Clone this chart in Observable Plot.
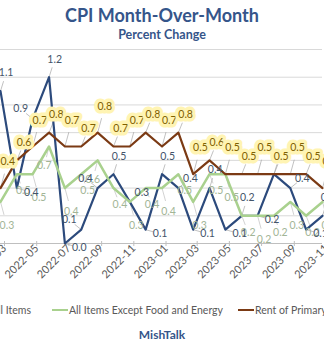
<!DOCTYPE html>
<html><head><meta charset="utf-8">
<script src="https://cdn.jsdelivr.net/npm/d3@7"></script>
<script src="https://cdn.jsdelivr.net/npm/@observablehq/plot@0.6"></script>
<style>
html,body{margin:0;padding:0;background:#fff;}
#wrap{position:relative;width:324px;height:348px;overflow:hidden;font-family:Lato,"Open Sans",sans-serif;}
#title{position:absolute;top:4px;left:0;width:324px;text-align:center;font-weight:700;font-size:18px;line-height:22px;color:#35558a;}
#subtitle{position:absolute;top:27px;left:0;width:324px;text-align:center;font-weight:700;font-size:12.5px;line-height:16px;color:#35558a;}
#chart{position:absolute;top:44px;left:0;}
.leg{position:absolute;top:303px;font-size:10.5px;line-height:14px;color:#595959;white-space:nowrap;display:flex;align-items:center;}
.key{display:inline-block;width:16px;height:2.5px;margin-right:1px;}
#caption{position:absolute;top:327px;left:0;width:324px;text-align:center;font-weight:700;font-size:12px;line-height:16px;color:#35558a;}
</style>
</head><body>
<div id="wrap">
  <div id="title"></div>
  <div id="subtitle"></div>
  <div id="chart"></div>
  <div id="legend"></div>
  <div id="caption"></div>
</div>
<script>
// ---- data ----
const titleText = "CPI Month-Over-Month";
const subtitleText = "Percent Change";
const captionText = "MishTalk";
const months = ["2022-03","2022-04","2022-05","2022-06","2022-07","2022-08","2022-09","2022-10","2022-11","2022-12",
                "2023-01","2023-02","2023-03","2023-04","2023-05","2023-06","2023-07","2023-08","2023-09","2023-10","2023-11"];
const allItems    = [1.1, 0.4, 0.9, 1.2, 0.0, 0.1, 0.4, 0.5, 0.3, 0.1, 0.5, 0.4, 0.1, 0.4, 0.1, 0.2, 0.2, 0.5, 0.4, 0.1, 0.2];
const coreItems   = [0.3, 0.5, 0.5, 0.7, 0.4, 0.5, 0.6, 0.4, 0.3, 0.4, 0.4, 0.5, 0.3, 0.5, 0.5, 0.2, 0.2, 0.2, 0.3, 0.2, 0.3];
const rentPrimary = [0.4, 0.6, 0.7, 0.8, 0.7, 0.7, 0.8, 0.7, 0.7, 0.8, 0.7, 0.8, 0.5, 0.6, 0.5, 0.5, 0.5, 0.5, 0.5, 0.5, 0.4];
const seriesNames = ["All Items", "All Items Except Food and Energy", "Rent of Primary Residence"];
const tickMonths = ["2022-03","2022-05","2022-07","2022-09","2022-11","2023-01","2023-03","2023-05","2023-07","2023-09","2023-11"];
const yTicks = [0.2, 0.4, 0.6, 0.8, 1.0, 1.2, 1.4];

// ---- styles ----
const colors = ["#2c4a7c", "#a9d18e", "#7b3a14"];
const labelColors = ["#44546a", "#a2b596", "#7f6000"];

document.getElementById("title").textContent = titleText;
document.getElementById("subtitle").textContent = subtitleText;
document.getElementById("caption").textContent = captionText;

const parse = d3.utcParse("%Y-%m");
const dates = months.map(parse);
const tickDates = tickMonths.map(parse);
const shift = (d, m) => new Date(+d + m * 30.44 * 864e5);

// label placement computed from the data shape
function place(values, rule) {
  return values.map((v, i) => {
    const p = i > 0 ? values[i - 1] : v, n = i < values.length - 1 ? values[i + 1] : v;
    const [dm, dv] = rule(v, p, n, i);
    const lx = shift(dates[i], dm), ly = v + dv;
    return {date: dates[i], v, lx, ly,
            ex: shift(dates[i], dm * 0.55), ey: v + dv * 0.55,
            label: v.toFixed(1)};
  });
}
const blueLab = place(allItems, (v, p, n) => {
  if (v >= p && v >= n) return [0.35, 0.13];
  if (v <= p && v <= n) return [0.9, -0.03];
  if (p < v) return [-0.75, 0.07];
  return [0.75, 0.07];
});
const greenLab = place(coreItems, (v, p, n, i) => {
  if (v >= p && v >= n && v > 0.55) return [-0.3, -0.14];
  return [0.4, i % 2 ? -0.12 : -0.17];
});
const rentLab = place(rentPrimary, (v, p, n, i) => [0.45, i % 2 ? 0.13 : 0.19]);

const rows = (vals, k) => vals.map((v, i) => ({date: dates[i], v, k}));

const plot = Plot.plot({
  width: 324, height: 254,
  marginTop: 5, marginBottom: 55, marginLeft: 0, marginRight: 2,
  style: {fontFamily: "Lato, 'Open Sans', sans-serif", background: "transparent", overflow: "visible"},
  x: {type: "utc", domain: [dates[0], dates[dates.length - 1]], axis: null},
  y: {domain: [0, 1.4], axis: null},
  marks: [
    Plot.ruleY(yTicks, {stroke: "#d9d9d9", strokeWidth: 1}),
    Plot.ruleY([0], {stroke: "#bfbfbf", strokeWidth: 1}),
    Plot.axisX(tickDates, {tickRotate: -45, tickFormat: d3.utcFormat("%Y-%m"), tickSize: 5, tickPadding: 0,
      dx: 4, dy: -2, stroke: "#bfbfbf", fill: "#595959", fontSize: 11, label: null}),
    // leader lines
    Plot.link(blueLab, {x1: "date", y1: "v", x2: "ex", y2: "ey", stroke: "#a6a6a6", strokeWidth: 0.7}),
    Plot.link(greenLab, {x1: "date", y1: "v", x2: "ex", y2: "ey", stroke: "#bfbfbf", strokeWidth: 0.7}),
    Plot.link(rentLab, {x1: "date", y1: "v", x2: "ex", y2: "ey", stroke: "#a6a6a6", strokeWidth: 0.7}),
    // series lines
    Plot.line(rows(allItems, 0), {x: "date", y: "v", stroke: colors[0], strokeWidth: 2.2}),
    Plot.line(rows(coreItems, 1), {x: "date", y: "v", stroke: colors[1], strokeWidth: 2.5}),
    Plot.line(rows(rentPrimary, 2), {x: "date", y: "v", stroke: colors[2], strokeWidth: 2.2}),
    // labels
    Plot.text(greenLab, {x: "lx", y: "ly", text: "label", fill: labelColors[1], fontSize: 10.5}),
    Plot.text(blueLab, {x: "lx", y: "ly", text: "label", fill: labelColors[0], fontSize: 10.5}),
    Plot.text(rentLab, {x: "lx", y: "ly", text: "label", fill: labelColors[2], fontSize: 10.5,
      stroke: "#fff4b3", strokeWidth: 7, strokeLinejoin: "round"})
  ]
});
document.getElementById("chart").appendChild(plot);

// legend
const legend = document.getElementById("legend");
const legPos = [{right: "293px"}, {left: "52px"}, {left: "238px"}];
seriesNames.forEach((name, i) => {
  const item = document.createElement("div");
  item.className = "leg";
  Object.assign(item.style, legPos[i]);
  const key = document.createElement("span");
  key.className = "key";
  key.style.background = colors[i];
  item.appendChild(key);
  item.appendChild(document.createTextNode(name));
  legend.appendChild(item);
});
</script>
</body></html>
